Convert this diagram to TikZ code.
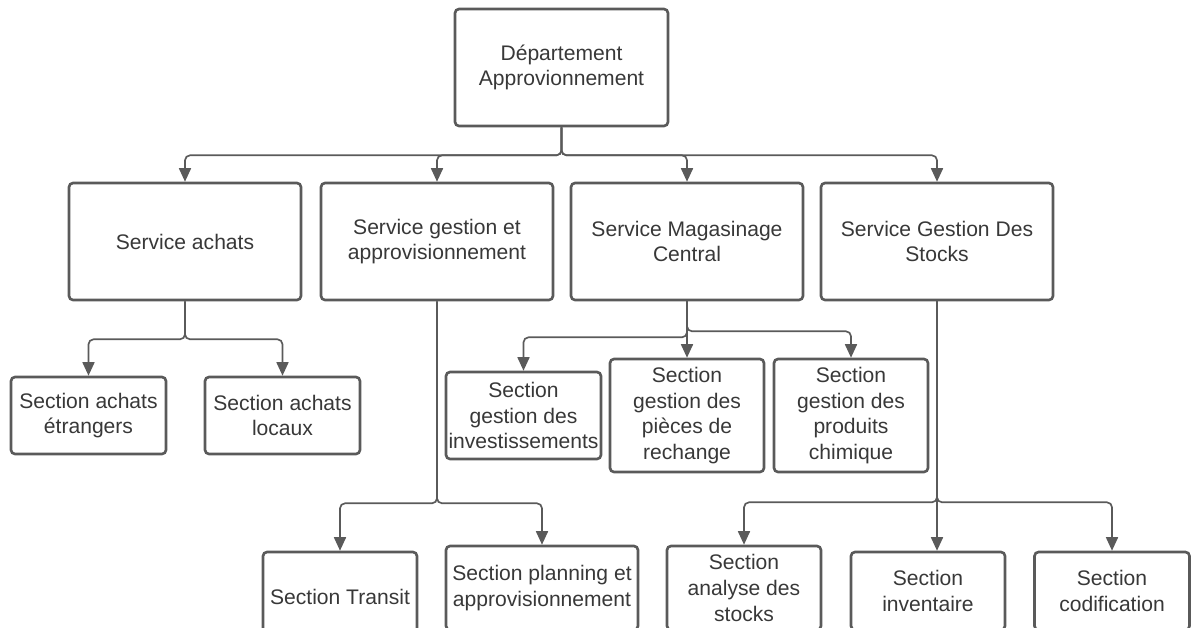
\documentclass[tikz,border=0pt]{standalone}
\usepackage{fontspec}
\setmainfont{Liberation Sans}
\usetikzlibrary{arrows.meta}
\definecolor{linegray}{HTML}{5A5A5A}
\definecolor{textgray}{HTML}{383838}
\tikzset{
  box/.style={draw=linegray, line width=1.5pt, rounded corners=0.08cm, align=center,
    text=textgray, inner sep=1pt, font=\fontsize{12}{14.7}\selectfont},
  conn/.style={draw=linegray, line width=0.95pt, rounded corners=0.1cm,
    -{Triangle[length=0.27cm, width=0.24cm]}}
}
\begin{document}
\begin{tikzpicture}[x=0.02cm, y=-0.02cm]
\useasboundingbox (0,0) rectangle (1193,627);
\clip (0,0) rectangle (1193,627);

\node[box, minimum width=4.26cm, minimum height=2.34cm] (dept) at (561.5,67.5) {Département\\Approvionnement};

\node[box, minimum width=4.64cm, minimum height=2.34cm] (achats) at (185,241.5) {Service achats};
\node[box, minimum width=4.64cm, minimum height=2.34cm] (gestion) at (437,241.5) {Service gestion et\\approvisionnement};
\node[box, minimum width=4.64cm, minimum height=2.34cm] (magasin) at (687,241.5) {Service Magasinage\\Central};
\node[box, minimum width=4.64cm, minimum height=2.34cm] (stocks) at (937,241.5) {Service Gestion Des\\Stocks};

\node[box, minimum width=3.1cm, minimum height=1.54cm] (etrangers) at (88.5,415.5) {Section achats\\étrangers};
\node[box, minimum width=3.1cm, minimum height=1.54cm] (locaux) at (282.5,415.5) {Section achats\\locaux};

\node[box, minimum width=3.1cm, minimum height=1.74cm] (invest) at (523.5,415.5) {Section\\gestion des\\investissements};
\node[box, minimum width=3.08cm, minimum height=2.26cm] (pieces) at (687,415.5) {Section\\gestion des\\pièces de\\rechange};
\node[box, minimum width=3.08cm, minimum height=2.26cm] (chimique) at (851,415.5) {Section\\gestion des\\produits\\chimique};

\node[box, minimum width=3.08cm, minimum height=1.8cm] (transit) at (340,597) {Section Transit};
\node[box, minimum width=3.84cm, minimum height=1.68cm] (planning) at (542,588) {Section planning et\\approvisionnement};
\node[box, minimum width=3.08cm, minimum height=1.68cm] (analyse) at (744,588) {Section\\analyse des\\stocks};
\node[box, minimum width=3.08cm, minimum height=1.56cm] (inventaire) at (928,591) {Section\\inventaire};
\node[box, minimum width=3.1cm, minimum height=1.56cm] (codif) at (1112,591) {Section\\codification};

% departement vers services
\draw[conn] (dept.south) -- ++(0,28) -| (achats.north);
\draw[conn] (dept.south) -- ++(0,28) -| (gestion.north);
\draw[conn] (dept.south) -- ++(0,28) -| (magasin.north);
\draw[conn] (dept.south) -- ++(0,28) -| (stocks.north);

% service achats
\draw[conn] (achats.south) -- ++(0,38) -| (etrangers.north);
\draw[conn] (achats.south) -- ++(0,38) -| (locaux.north);

% service gestion
\draw[conn] (gestion.south) -- ++(0,202) -| (transit.north);
\draw[conn] (gestion.south) -- ++(0,202) -| (planning.north);

% magasinage
\draw[conn] (magasin.south) -- ++(0,36) -| (invest.north);
\draw[conn] (magasin.south) -- (pieces.north);
\draw[conn] (magasin.south) -- ++(0,30) -| (chimique.north);

% stocks
\draw[conn] (stocks.south) -- ++(0,201) -| (analyse.north);
\draw[conn] (stocks.south) -- (stocks.south |- inventaire.north);
\draw[conn] (stocks.south) -- ++(0,201) -| (codif.north);
\end{tikzpicture}
\end{document}
